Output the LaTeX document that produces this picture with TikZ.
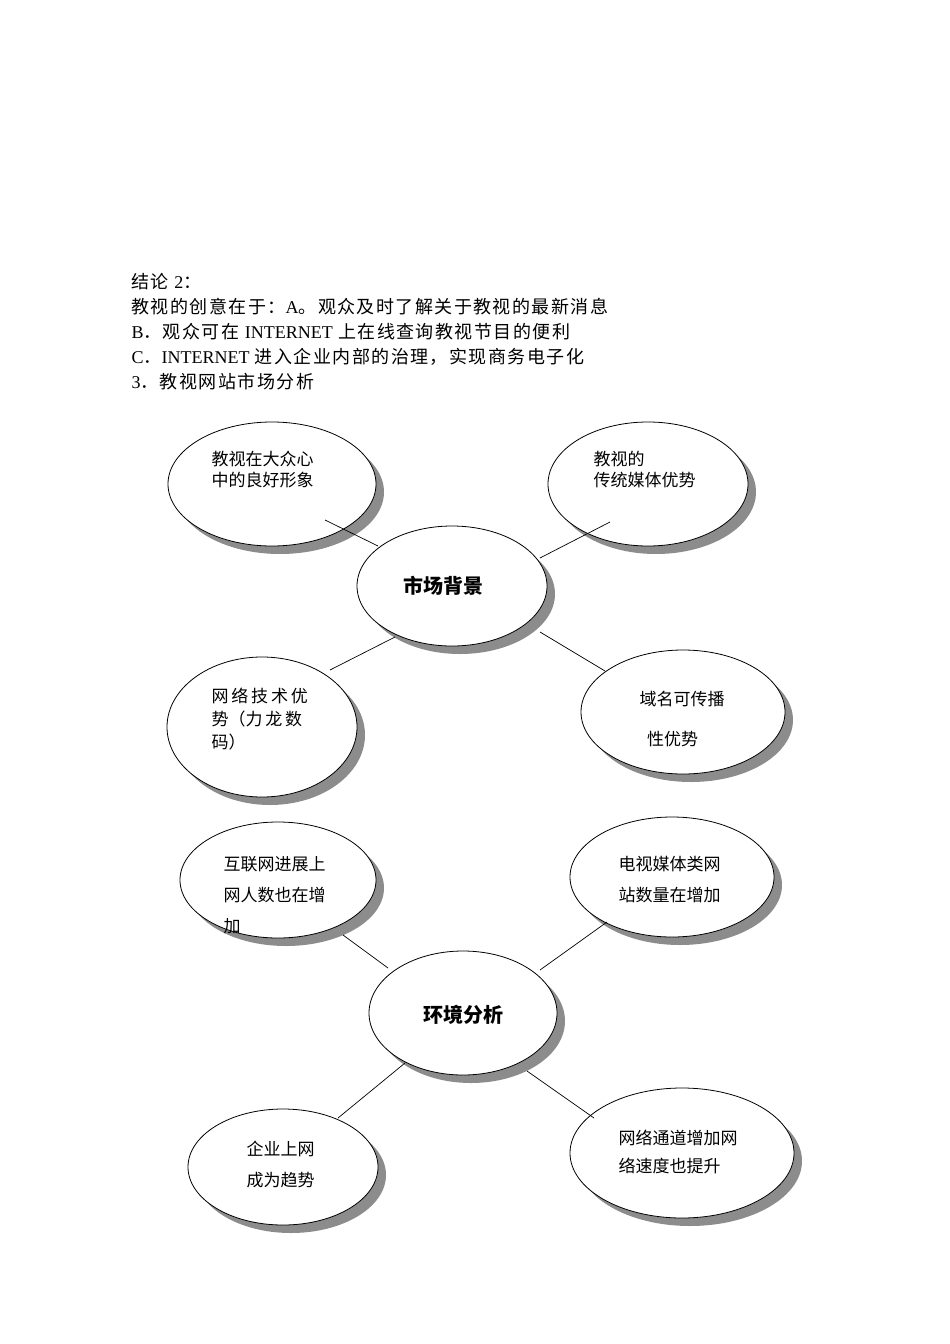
\documentclass[tikz,border=0pt]{standalone}
\usepackage{fontspec}
\setmainfont{Liberation Serif}
\newfontfamily\cjk[LetterSpace=8]{Noto Sans CJK SC}
\newfontfamily\cjkn{Noto Sans CJK SC}
\begin{document}
\begin{tikzpicture}[x=1pt,y=-1pt,
  el/.style={draw=black,fill=white,line width=0.8pt},
  sh/.style={fill=black!45},
  lab/.style={font=\cjkn\fontsize{17}{21}\selectfont,align=left,anchor=north west},
  big/.style={font=\cjkn\bfseries\fontsize{20}{22}\selectfont},
  ln/.style={line width=0.7pt}]
\useasboundingbox (0,0) rectangle (950,1344);
\newcommand{\bub}[5]{%
  \fill[sh] (#1+8,#2+8) ellipse [x radius=#3,y radius=#4];
  \draw[el] (#1,#2) ellipse [x radius=#3,y radius=#4];}
\node[lab,font=\cjk\fontsize{18}{25}\selectfont] (hdr) at (128,270) {结论 {\rmfamily 2}：\\教视的创意在于：{\rmfamily A}。观众及时了解关于教视的最新消息\\{\rmfamily B}．观众可在 {\rmfamily INTERNET} 上在线查询教视节目的便利\\{\rmfamily C}．{\rmfamily INTERNET} 进入企业内部的治理，实现商务电子化\\{\rmfamily 3}．教视网站市场分析};
\bub{272}{484}{104}{62}{}
\bub{648}{484}{100}{62}{}
\bub{452}{586}{95}{60}{}
\bub{262}{727}{95}{70}{}
\bub{683}{712}{102}{62}{}
\bub{278}{880}{98}{58}{}
\bub{672}{877}{102}{60}{}
\bub{463}{1013}{94}{62}{}
\bub{283}{1167}{95}{58}{}
\bub{682}{1153}{112}{65}{}
\node[lab] (n1) at (208,448) {教视在大众心\\中的良好形象};
\node[lab] (n2) at (590,448) {教视的\\传统媒体优势};
\node[big] (c1) at (443,586) {市场背景};
\node[lab,font=\cjkn\fontsize{17}{23}\selectfont] (n3) at (208,684) {网\,络\,技\,术\,优\\势（力\,龙\,数\\码）};
\node[lab,font=\cjkn\fontsize{17}{40}\selectfont] (n4) at (636,688) {域名可传播\\\ \ 性优势};
\node[lab,font=\cjkn\fontsize{17}{31}\selectfont] (n5) at (220,853) {互联网进展上\\网人数也在增\\加};
\node[lab,font=\cjkn\fontsize{17}{31}\selectfont] (n6) at (615,853) {电视媒体类网\\站数量在增加};
\node[big] (c2) at (463,1015) {环境分析};
\node[lab,font=\cjkn\fontsize{17}{31}\selectfont] (n7) at (243,1138) {企业上网\\成为趋势};
\node[lab,font=\cjkn\fontsize{17}{28}\selectfont] (n8) at (615,1126) {网络通道增加网\\络速度也提升};
\coordinate (a1) at (325,520); \coordinate (b1) at (378,546);
\coordinate (a2) at (540,558); \coordinate (b2) at (610,522);
\coordinate (a3) at (330,670); \coordinate (b3) at (395,637);
\coordinate (a4) at (540,632); \coordinate (b4) at (605,671);
\coordinate (a5) at (343,935); \coordinate (b5) at (388,968);
\coordinate (a6) at (540,970); \coordinate (b6) at (607,922);
\coordinate (a7) at (338,1118); \coordinate (b7) at (405,1063);
\coordinate (a8) at (527,1071); \coordinate (b8) at (594,1118);
\foreach \i in {1,...,8} \draw[ln] (a\i) -- (b\i);
\end{tikzpicture}
\end{document}
